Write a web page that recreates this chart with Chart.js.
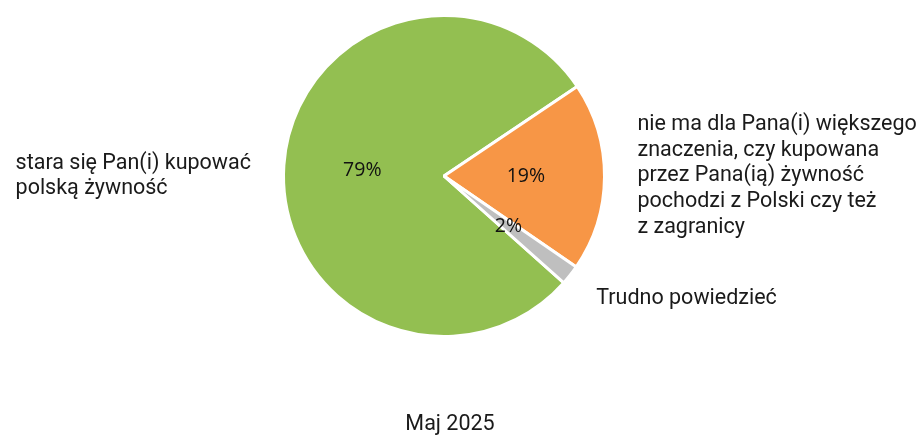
<!DOCTYPE html>
<html lang="pl">
<head>
    <meta charset="UTF-8">
    <title>Maj 2025</title>
    <script src="https://cdn.jsdelivr.net/npm/chart.js"></script>
    <style>
        html, body { margin: 0; padding: 0; background: #fff; }
        #wrap { width: 917px; height: 436px; }
    </style>
</head>
<body>
    <div id="wrap"><canvas id="pieChart"></canvas></div>

    <script>
        // Data
        const categories = [
            ['stara się Pan(i) kupować', 'polską żywność'],
            ['nie ma dla Pana(i) większego', 'znaczenia, czy kupowana', 'przez Pana(ią) żywność', 'pochodzi z Polski czy też', 'z zagranicy'],
            ['Trudno powiedzieć']
        ];
        const values = [79, 19, 2];
        const sliceColors = ['#93BF51', '#F79646', '#BFBFBF'];
        const periodLabel = 'Maj 2025';

        // Draws percentages inside slices, category labels outside and the period caption
        const labelPlugin = {
            id: 'pieLabels',
            afterDatasetsDraw(chart) {
                const ctx = chart.ctx;
                const meta = chart.getDatasetMeta(0);
                ctx.save();
                meta.data.forEach((arc, i) => {
                    const mid = (arc.startAngle + arc.endAngle) / 2;
                    const r = arc.outerRadius;
                    // percentage
                    ctx.font = '19.5px "Open Sans"';
                    ctx.fillStyle = '#111';
                    ctx.textAlign = 'center';
                    ctx.textBaseline = 'middle';
                    ctx.fillText(values[i] + '%', arc.x + Math.cos(mid) * r * 0.51, arc.y + Math.sin(mid) * r * 0.51);

                    // category label
                    ctx.font = '21.5px Roboto';
                    ctx.fillStyle = '#1a1a1a';
                    ctx.textBaseline = 'middle';
                    ctx.textAlign = 'left';
                    const lines = categories[i];
                    const lh = 25.7;
                    const ax = arc.x + Math.cos(mid) * (r + 33);
                    // labels on the far left/right sit level with the centre
                    const ay = Math.abs(Math.cos(mid)) > 0.95 ? arc.y : arc.y + Math.sin(mid) * (r + 38);
                    const w = Math.max(...lines.map(l => ctx.measureText(l).width));
                    const x0 = Math.cos(mid) < 0 ? ax - w : ax;
                    const y0 = ay - (lines.length - 1) * lh / 2;
                    lines.forEach((l, k) => ctx.fillText(l, x0, y0 + k * lh));
                });
                ctx.font = '21.5px Roboto';
                ctx.textAlign = 'center';
                ctx.fillText(periodLabel, 450, 425);
                ctx.restore();
            }
        };

        new Chart(document.getElementById('pieChart'), {
            type: 'pie',
            data: {
                labels: categories.map(c => c.join(' ')),
                datasets: [{
                    data: values,
                    backgroundColor: sliceColors,
                    borderColor: '#ffffff',
                    borderWidth: 3
                }]
            },
            options: {
                responsive: true,
                maintainAspectRatio: false,
                animation: false,
                rotation: 131.7,
                layout: { padding: { left: 282, right: 311, top: 14, bottom: 98 } },
                plugins: {
                    legend: { display: false },
                    tooltip: { enabled: false },
                    title: { display: false }
                }
            },
            plugins: [labelPlugin]
        });
    </script>
</body>
</html>
